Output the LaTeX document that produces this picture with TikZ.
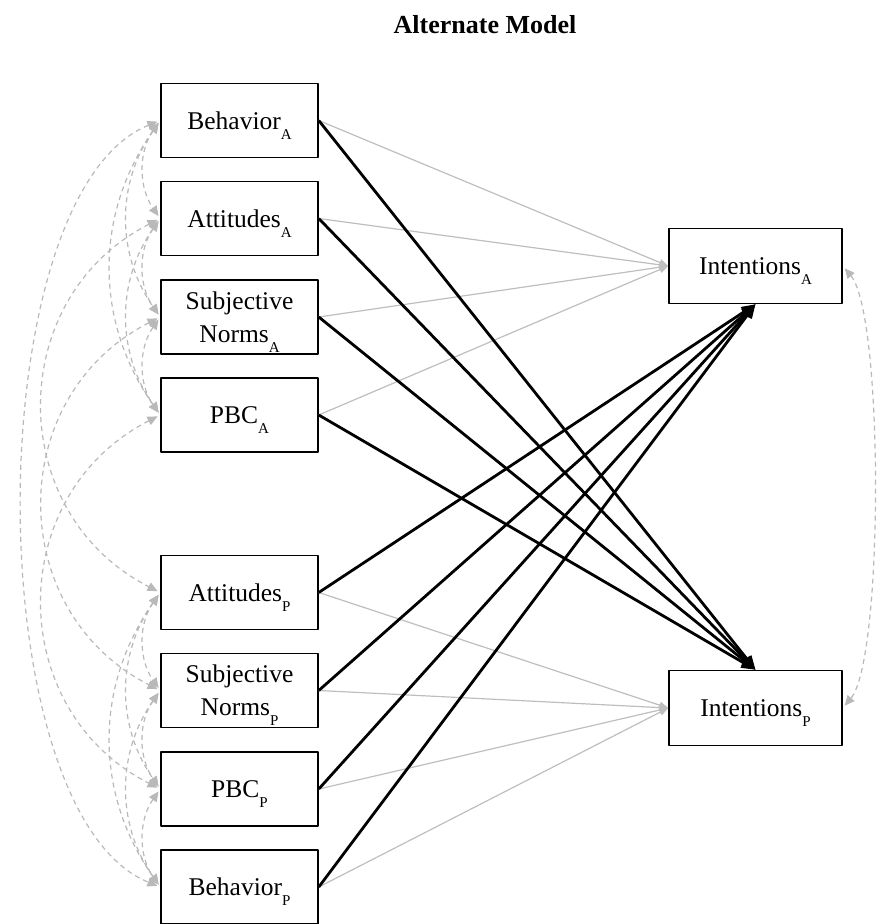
\documentclass[tikz,border=0pt]{standalone}
\usepackage{fontspec}
\setmainfont{Liberation Serif}
\usetikzlibrary{arrows.meta}
\definecolor{fadegray}{RGB}{190,190,190}
\definecolor{covgray}{RGB}{185,185,185}
\newcommand\grp[1]{\raisebox{-5pt}[0pt][0pt]{\fontsize{7.5}{8}\selectfont #1}}

\begin{document}
\begin{tikzpicture}[x=0.5pt,y=-0.5pt,line join=round,
		font=\fontsize{12.75}{16.5}\selectfont,
		var/.style={draw,line width=0.75pt,minimum width=78.5pt,minimum height=37pt,align=center,inner sep=1pt},
		dep/.style={var,minimum width=86.5pt,minimum height=37.5pt},
		own/.style={line width=1.4pt,-{Triangle[length=7pt,width=5.5pt]}},
		fade/.style={fadegray,line width=0.6pt,-{Triangle[length=4.5pt,width=3.5pt]}},
		cov/.style={covgray,line width=0.6pt,dash pattern=on 2.5pt off 2pt,
			{Triangle[length=5pt,width=4.5pt]}-{Triangle[length=5pt,width=4.5pt]},shorten <=1.5pt,shorten >=1.5pt}]
	\useasboundingbox (0,0) rectangle (876,924);
	\def\xl{239.5}
	\def\xr{755.5}
	\node[font=\bfseries\fontsize{13}{15}\selectfont] (title) at (485,25) {Alternate Model};
	% actor
	\node[var] (bA) at (\xl,120.5) {Behavior\grp{A}};
	\node[var] (aA) at (\xl,218.5) {Attitudes\grp{A}};
	\node[var] (sA) at (\xl,317) {Subjective\\Norms\grp{A}};
	\node[var] (pA) at (\xl,415) {PBC\grp{A}};
	% partner
	\node[var] (aP) at (\xl,592.5) {Attitudes\grp{P}};
	\node[var] (sP) at (\xl,690.5) {Subjective\\Norms\grp{P}};
	\node[var] (pP) at (\xl,789) {PBC\grp{P}};
	\node[var] (bP) at (\xl,887) {Behavior\grp{P}};
	% outcomes
	\node[dep] (iA) at (\xr,266) {Intentions\grp{A}};
	\node[dep] (iP) at (\xr,708) {Intentions\grp{P}};
	% covariances
	\foreach \u/\v in {bA/aA,aA/sA,sA/pA,bA/sA,aA/pA,bA/pA,aP/sP,sP/pP,pP/bP,aP/pP,sP/bP,aP/bP}
		\draw[cov] (\u.west) to[bend right=35] (\v.west);
	\foreach \u/\v in {aA/aP,sA/sP,pA/pP}
		\draw[cov] (\u.west) to[bend right=63,looseness=1.2] (\v.west);
	\draw[cov] (bA.west) to[bend right=68,looseness=0.66] (bP.west);
	\draw[cov] (iA.east) to[bend left=40,looseness=0.37] (iP.east);
	% paths
	\foreach \u in {bA,aA,sA,pA} \draw[fade] (\u.east) -- (iA.west);
	\foreach \u in {aP,sP,pP,bP} \draw[fade] (\u.east) -- (iP.west);
	\foreach \u in {bA,aA,sA,pA} \draw[own] (\u.east) -- (iP.north);
	\foreach \u in {aP,sP,pP,bP} \draw[own] (\u.east) -- (iA.south);
\end{tikzpicture}
\end{document}
